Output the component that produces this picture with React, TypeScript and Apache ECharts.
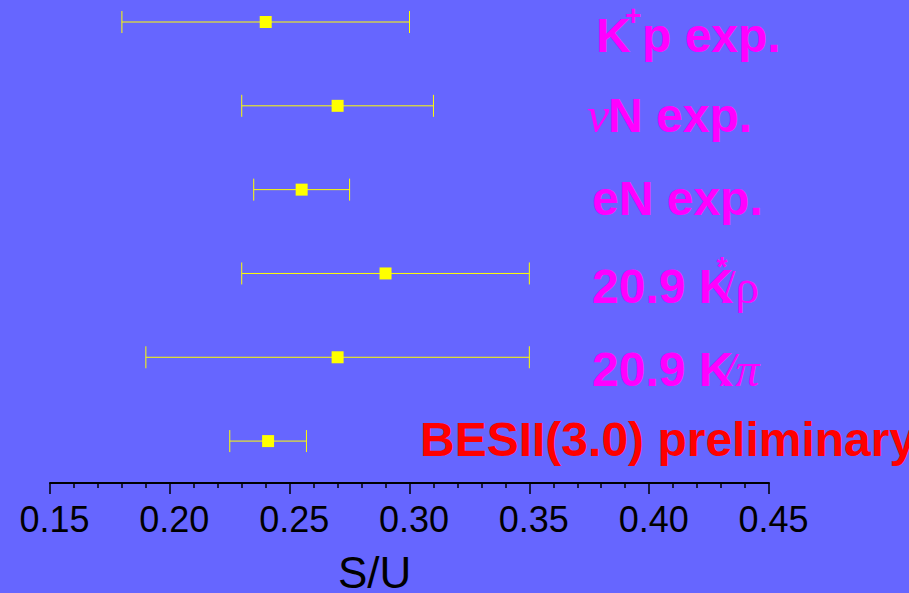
import React, { useEffect, useRef } from "react";
import * as echarts from "echarts";

// Rows from top (5) to bottom (0)
const rowIndex = [5, 4, 3, 2, 1, 0];
const centers = [0.24, 0.27, 0.255, 0.29, 0.27, 0.241];
const lows = [0.18, 0.23, 0.235, 0.23, 0.19, 0.225];
const highs = [0.3, 0.31, 0.275, 0.35, 0.35, 0.257];
const rowLabels = ["K+p exp.", "νN exp.", "eN exp.", "20.9 K*/ρ", "20.9 K/π", "BESII(3.0) preliminary"];
const xMin = 0.15;
const xMax = 0.45;
const xStep = 0.05;
const xName = "S/U";

const SANS = "Liberation Sans, Arial, Helvetica, sans-serif";
const SERIF = "Liberation Serif, Times New Roman, serif";
const MAGENTA = "#FF00FF";

function txt(text: string, x: number, y: number, opts: any = {}) {
  return {
    type: "text",
    x,
    y,
    z: 100,
    style: {
      text,
      fill: opts.fill || MAGENTA,
      fontSize: opts.size || 48,
      fontWeight: opts.weight || "bold",
      fontStyle: opts.italic ? "italic" : "normal",
      fontFamily: opts.family || SANS,
      align: opts.align || "left",
      verticalAlign: "middle",
    },
  };
}

export default function App() {
  const ref = useRef<HTMLDivElement>(null);
  useEffect(() => {
    if (!ref.current) return;
    const chart = echarts.init(ref.current, undefined, { renderer: "svg" });
    const barData = rowIndex.map((r, i) => [lows[i], highs[i], r]);
    const pointData = rowIndex.map((r, i) => [centers[i], r]);

    const kp = rowLabels[0];
    const nn = rowLabels[1];
    const en = rowLabels[2];
    const kr = rowLabels[3];
    const kpi = rowLabels[4];
    const bes = rowLabels[5];

    const graphic: any[] = [
      txt(kp.slice(0, 1), 596, 35.4),
      txt(kp.slice(1, 2), 625, 15.5, { size: 28 }),
      txt(kp.slice(2), 642, 35.4),
      txt(nn.slice(0, 1), 587, 115, { family: SERIF, italic: true, weight: "normal", size: 50 }),
      txt(nn.slice(1), 608, 115.4),
      txt(en, 592, 198.4),
      txt(kr.slice(0, 6), 592, 286.4),
      txt(kr.slice(6, 7), 722, 266.5, { size: 28, align: "center" }),
      txt(kr.slice(7), 722, 286.8, { family: SERIF, weight: "normal" }),
      txt(kpi.slice(0, 6), 592, 369.4),
      txt(kpi.slice(6), 722, 369, { family: SERIF, weight: "normal", italic: true }),
      txt(bes, 420, 439.4, { fill: "#FF0000" }),
      txt(xName, 338, 572, { fill: "#000000", weight: "normal", size: 44 }),
    ];

    chart.setOption({
      animation: false,
      backgroundColor: "#6666FF",
      grid: { left: 50, right: 140, top: 22, bottom: 110, containLabel: false },
      xAxis: {
        type: "value",
        min: xMin,
        max: xMax,
        interval: xStep,
        splitLine: { show: false },
        axisLine: { show: true, onZero: false, lineStyle: { color: "#000", width: 2 } },
        axisTick: { show: true, inside: false, length: 11, lineStyle: { color: "#000", width: 1.5 } },
        minorTick: { show: true, splitNumber: 5, length: 5, lineStyle: { color: "#000", width: 1.5 } },
        axisLabel: {
          color: "#000",
          fontSize: 36,
          fontFamily: SANS,
          margin: 18,
          padding: [0, 0, 0, 9],
          showMinLabel: true,
          showMaxLabel: true,
          formatter: (v: number) => v.toFixed(2),
        },
      },
      yAxis: {
        type: "value",
        min: -0.5,
        max: 5,
        show: false,
      },
      graphic,
      series: [
        {
          type: "custom",
          data: barData,
          encode: { x: [0, 1], y: 2 },
          renderItem: (params: any, api: any) => {
            const y = api.value(2);
            const a = api.coord([api.value(0), y]);
            const b = api.coord([api.value(1), y]);
            const h = 11;
            const style = { stroke: "#FFFF00", lineWidth: 1 };
            return {
              type: "group",
              children: [
                { type: "line", shape: { x1: a[0], y1: a[1], x2: b[0], y2: b[1] }, style },
                { type: "line", shape: { x1: a[0], y1: a[1] - h, x2: a[0], y2: a[1] + h }, style },
                { type: "line", shape: { x1: b[0], y1: b[1] - h, x2: b[0], y2: b[1] + h }, style },
              ],
            };
          },
          z: 2,
        },
        {
          type: "scatter",
          data: pointData,
          symbol: "rect",
          symbolSize: 12,
          itemStyle: { color: "#FFFF00", opacity: 1 },
          z: 3,
        },
      ],
    });
    return () => chart.dispose();
  }, []);
  return (
    <div
      ref={ref}
      style={{ position: "fixed", left: 0, top: 0, width: 909, height: 593 }}
    />
  );
}
